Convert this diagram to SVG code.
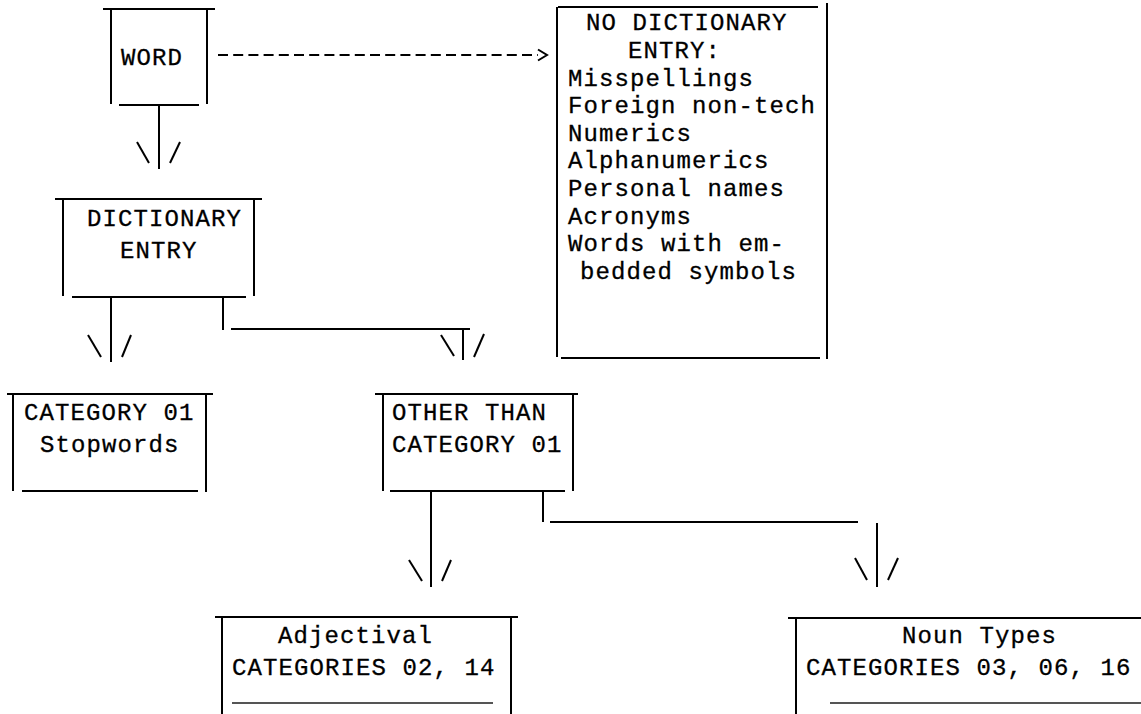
<svg xmlns="http://www.w3.org/2000/svg" width="1141" height="714" viewBox="0 0 1141 714">
<style>
  .ln { stroke: #000; stroke-width: 2; fill: none; stroke-linecap: butt; }
  .t { font-family: "Liberation Mono", "Courier New", monospace; font-size: 24px; letter-spacing: 1.1px; fill: #000; stroke: #000; stroke-width: 0.3; }
</style>
<rect width="1141" height="714" fill="#fff"/>

<g id="connectors" class="ln">
  <!-- WORD to NO DICTIONARY ENTRY (dashed) -->
  <line x1="218" y1="55" x2="538" y2="55" stroke-dasharray="10 5.2"/>
  <polyline points="538,49.5 547,55 538,60.5"/>
  <!-- WORD to DICTIONARY ENTRY -->
  <line x1="159" y1="105" x2="159" y2="169"/>
  <line x1="137" y1="142" x2="149" y2="163"/>
  <line x1="180" y1="142" x2="170" y2="163"/>
  <!-- DICTIONARY ENTRY to CATEGORY 01 -->
  <line x1="111" y1="297" x2="111" y2="362"/>
  <line x1="88" y1="335" x2="101" y2="357"/>
  <line x1="131" y1="335" x2="122" y2="357"/>
  <!-- DICTIONARY ENTRY to OTHER THAN -->
  <line x1="223" y1="297" x2="223" y2="330"/>
  <line x1="231" y1="329" x2="470" y2="329"/>
  <line x1="463" y1="329" x2="463" y2="360"/>
  <line x1="441" y1="335" x2="454" y2="356"/>
  <line x1="484" y1="334" x2="474" y2="357"/>
  <!-- OTHER THAN to Adjectival -->
  <line x1="431" y1="491" x2="431" y2="587"/>
  <line x1="409" y1="560" x2="422" y2="581"/>
  <line x1="451" y1="560" x2="442" y2="581"/>
  <!-- OTHER THAN to Noun Types -->
  <line x1="543" y1="491" x2="543" y2="522"/>
  <line x1="550" y1="522" x2="858" y2="522"/>
  <line x1="877" y1="523" x2="877" y2="587"/>
  <line x1="855" y1="558" x2="867" y2="580"/>
  <line x1="898" y1="558" x2="888" y2="580"/>
</g>

<g id="word">
  <g class="ln">
    <line x1="103" y1="9" x2="215" y2="9"/>
    <line x1="111" y1="9" x2="111" y2="104"/>
    <line x1="207" y1="9" x2="207" y2="104"/>
    <line x1="119" y1="105" x2="199" y2="105"/>
  </g>
  <text class="t" x="121" y="65">WORD</text>
</g>

<g id="no-dictionary-entry">
  <g class="ln">
    <line x1="558" y1="7" x2="818" y2="7"/>
    <line x1="557" y1="7" x2="557" y2="357"/>
    <line x1="827" y1="3" x2="827" y2="359"/>
    <line x1="561" y1="358" x2="820" y2="358"/>
  </g>
  <text class="t" x="586" y="30">NO DICTIONARY</text>
  <text class="t" x="628" y="57.5">ENTRY:</text>
  <text class="t" x="568" y="85.5">Misspellings</text>
  <text class="t" x="568" y="113">Foreign non-tech</text>
  <text class="t" x="568" y="140.5">Numerics</text>
  <text class="t" x="568" y="168">Alphanumerics</text>
  <text class="t" x="568" y="196">Personal names</text>
  <text class="t" x="568" y="223.5">Acronyms</text>
  <text class="t" x="568" y="251">Words with em-</text>
  <text class="t" x="580" y="279">bedded symbols</text>
</g>

<g id="dictionary-entry">
  <g class="ln">
    <line x1="55" y1="199" x2="262" y2="199"/>
    <line x1="63" y1="199" x2="63" y2="296"/>
    <line x1="254" y1="199" x2="254" y2="296"/>
    <line x1="72" y1="297" x2="246" y2="297"/>
  </g>
  <text class="t" x="87" y="226">DICTIONARY</text>
  <text class="t" x="120" y="258">ENTRY</text>
</g>

<g id="category-01">
  <g class="ln">
    <line x1="7" y1="394" x2="213" y2="394"/>
    <line x1="13" y1="394" x2="13" y2="491"/>
    <line x1="206" y1="394" x2="206" y2="492"/>
    <line x1="22" y1="491" x2="198" y2="491"/>
  </g>
  <text class="t" x="24" y="420">CATEGORY 01</text>
  <text class="t" x="40" y="452">Stopwords</text>
</g>

<g id="other-than-category-01">
  <g class="ln">
    <line x1="375" y1="394" x2="578" y2="394"/>
    <line x1="383" y1="394" x2="383" y2="491"/>
    <line x1="573" y1="394" x2="573" y2="491"/>
    <line x1="390" y1="491" x2="565" y2="491"/>
  </g>
  <text class="t" x="392" y="420">OTHER THAN</text>
  <text class="t" x="392" y="452">CATEGORY 01</text>
</g>

<g id="adjectival">
  <g class="ln">
    <line x1="215" y1="617" x2="518" y2="617"/>
    <line x1="222" y1="617" x2="222" y2="714"/>
    <line x1="511" y1="617" x2="511" y2="714"/>
    <line x1="232" y1="703" x2="493" y2="703" stroke="#555"/>
  </g>
  <text class="t" x="278" y="643">Adjectival</text>
  <text class="t" x="232" y="675">CATEGORIES 02, 14</text>
</g>

<g id="noun-types">
  <g class="ln">
    <line x1="788" y1="618" x2="1141" y2="618"/>
    <line x1="796" y1="618" x2="796" y2="714"/>
    <line x1="830" y1="703" x2="1141" y2="703" stroke="#555"/>
  </g>
  <text class="t" x="902" y="643">Noun Types</text>
  <text class="t" x="806" y="675">CATEGORIES 03, 06, 16</text>
</g>
</svg>
